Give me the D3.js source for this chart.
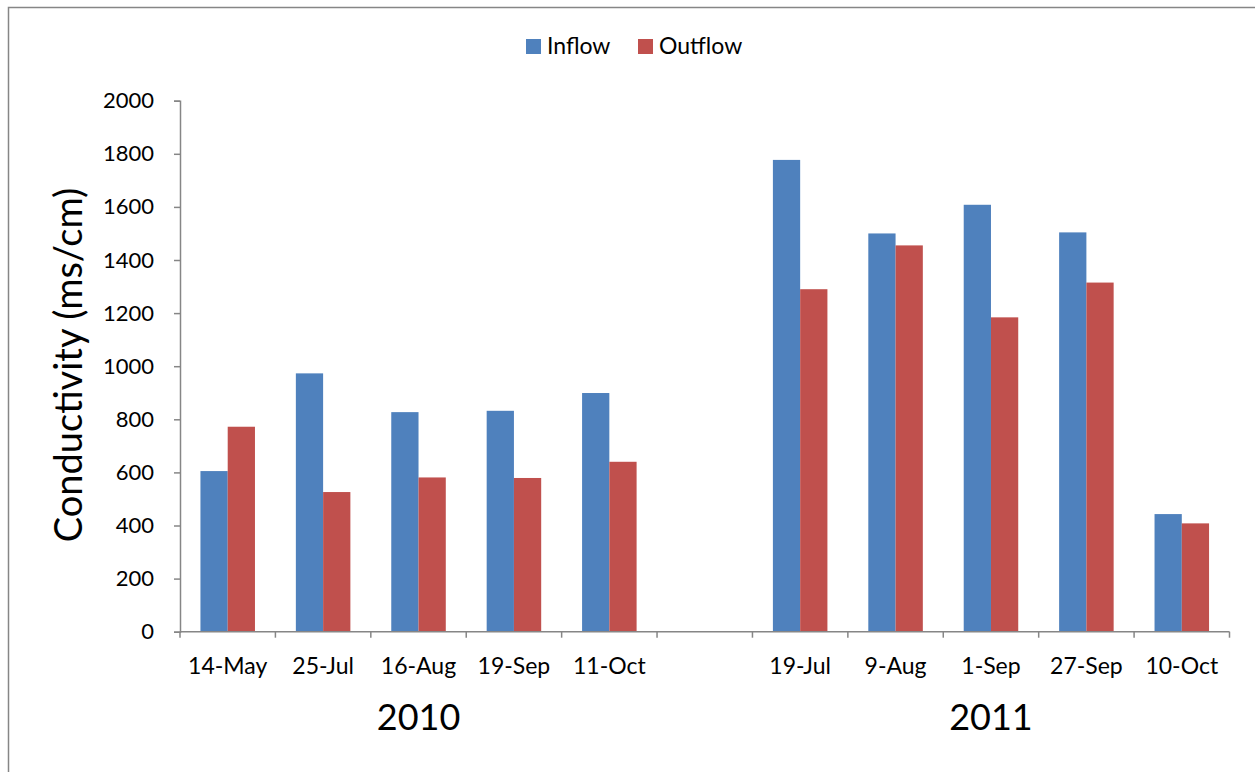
<!DOCTYPE html>
<html>
<head>
<meta charset="utf-8">
<script src="https://cdn.jsdelivr.net/npm/d3@7"></script>
<style>
  html, body { margin: 0; padding: 0; background: #fff; }
  svg { display: block; }
  text { font-family: Lato, "Open Sans", sans-serif; fill: #000; }
</style>
</head>
<body>
<svg id="chart" width="1255" height="772"></svg>
<script>
// Sampling dates per season
const dates2010 = ["14-May", "25-Jul", "16-Aug", "19-Sep", "11-Oct"];
const dates2011 = ["19-Jul", "9-Aug", "1-Sep", "27-Sep", "10-Oct"];
const years = ["2010", "2011"];

// Conductivity (ms/cm)
const inflow2010  = [605, 973, 827, 832, 899];
const outflow2010 = [772, 526, 581, 579, 640];
const inflow2011  = [1777, 1500, 1608, 1504, 443];
const outflow2011 = [1290, 1455, 1184, 1315, 408];

const seriesNames = ["Inflow", "Outflow"];
const seriesColors = ["#4F81BD", "#C0504D"];
const yTicks = [0, 200, 400, 600, 800, 1000, 1200, 1400, 1600, 1800, 2000];

// One slot per date, with an empty slot separating the two seasons
const slots = [
  ...dates2010.map((d, i) => ({ key: "2010|" + d, label: d, year: "2010", values: [inflow2010[i], outflow2010[i]] })),
  { key: "gap", label: "", year: null, values: null },
  ...dates2011.map((d, i) => ({ key: "2011|" + d, label: d, year: "2011", values: [inflow2011[i], outflow2011[i]] }))
];

const svg = d3.select("#chart");
const axisColor = "#868686";

const plotLeft = 180, plotRight = 1229.5, plotTop = 100.7, plotBottom = 631.7;

const x = d3.scaleBand()
  .domain(slots.map(s => s.key))
  .range([plotLeft, plotRight])
  .paddingInner(0)
  .paddingOuter(0);

// Bars fill 2/3.5 of each slot (gap width 150%)
const inner = d3.scaleBand()
  .domain(seriesNames)
  .range([0, x.bandwidth()])
  .paddingInner(0)
  .paddingOuter(0.75);

const y = d3.scaleLinear().domain([0, 2000]).range([plotBottom, plotTop]);

// Outer chart border
svg.append("rect")
  .attr("x", 8.5).attr("y", 7.5)
  .attr("width", 1400).attr("height", 900)
  .attr("fill", "none").attr("stroke", axisColor).attr("stroke-width", 1.5);

// Bars
const groups = svg.append("g").selectAll("g")
  .data(slots.filter(s => s.values))
  .join("g")
  .attr("transform", s => `translate(${x(s.key)},0)`);

groups.selectAll("rect")
  .data(s => s.values.map((v, i) => ({ name: seriesNames[i], value: v, color: seriesColors[i] })))
  .join("rect")
  .attr("x", d => inner(d.name))
  .attr("width", inner.bandwidth())
  .attr("y", d => y(d.value))
  .attr("height", d => y(0) - y(d.value))
  .attr("fill", d => d.color);

// Y axis
const yAxis = svg.append("g")
  .attr("transform", `translate(${plotLeft},0)`)
  .call(d3.axisLeft(y).tickValues(yTicks).tickSize(6).tickPadding(20).tickFormat(d3.format("d")));
yAxis.select(".domain").attr("stroke", axisColor).attr("stroke-width", 1.5);
yAxis.selectAll(".tick line").attr("stroke", axisColor).attr("stroke-width", 1.5);
yAxis.selectAll(".tick text")
  .attr("font-size", 22)
  .attr("font-family", "Lato, sans-serif")
  .attr("fill", "#000");

// X axis: ticks on slot boundaries
const xAxisG = svg.append("g");
xAxisG.append("line")
  .attr("x1", plotLeft).attr("x2", plotRight)
  .attr("y1", plotBottom).attr("y2", plotBottom)
  .attr("stroke", axisColor).attr("stroke-width", 1.5);
const boundaries = slots.map(s => x(s.key)).concat([plotRight]);
xAxisG.selectAll("line.tick")
  .data(boundaries)
  .join("line")
  .attr("class", "tick")
  .attr("x1", d => d).attr("x2", d => d)
  .attr("y1", plotBottom).attr("y2", plotBottom + 6)
  .attr("stroke", axisColor).attr("stroke-width", 1.5);

// Date labels
svg.append("g").selectAll("text")
  .data(slots.filter(s => s.label))
  .join("text")
  .attr("x", s => x(s.key) + x.bandwidth() / 2)
  .attr("y", 674)
  .attr("text-anchor", "middle")
  .attr("font-size", 23)
  .text(s => s.label);

// Year labels centred under each season
svg.append("g").selectAll("text")
  .data(years)
  .join("text")
  .attr("x", yr => {
    const ks = slots.filter(s => s.year === yr);
    return (x(ks[0].key) + x(ks[ks.length - 1].key) + x.bandwidth()) / 2;
  })
  .attr("y", 730)
  .attr("text-anchor", "middle")
  .attr("font-size", 36)
  .text(d => d);

// Y axis title
svg.append("text")
  .attr("transform", "translate(82,365) rotate(-90)")
  .attr("text-anchor", "middle")
  .attr("font-size", 38)
  .text("Conductivity (ms/cm)");

// Legend
const legend = svg.append("g");
const legendItems = [
  { name: seriesNames[0], color: seriesColors[0], x: 526 },
  { name: seriesNames[1], color: seriesColors[1], x: 638 }
];
legendItems.forEach(it => {
  legend.append("rect")
    .attr("x", it.x).attr("y", 39)
    .attr("width", 15).attr("height", 15)
    .attr("fill", it.color);
  legend.append("text")
    .attr("x", it.x + 21).attr("y", 54)
    .attr("font-size", 23)
    .text(it.name);
});
</script>
</body>
</html>
